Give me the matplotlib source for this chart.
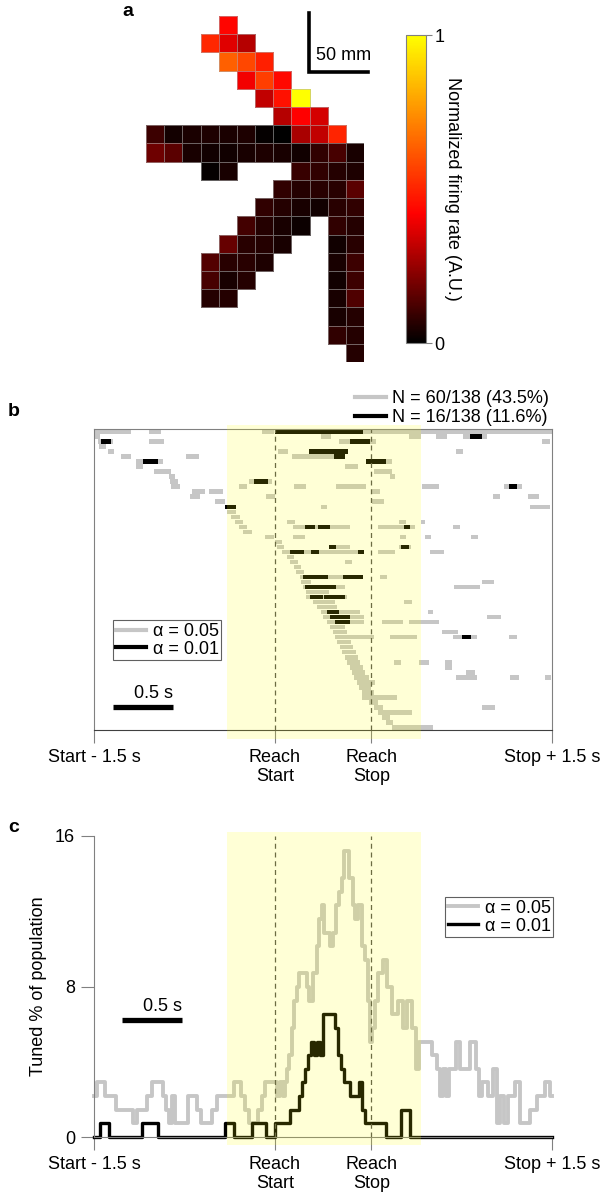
import numpy as np
import matplotlib.pyplot as plt
from matplotlib.colors import LinearSegmentedColormap
from matplotlib.lines import Line2D
from matplotlib.patches import Rectangle

plt.rcParams['font.family'] = ['Liberation Sans', 'DejaVu Sans']
plt.rcParams['font.size'] = 13

N = np.nan
# panel a: normalized firing rate per spatial bin (19 rows x 12 cols)
rate_map = [
    [N, N, N, N, 0.43, N, N, N, N, N, N, N],
    [N, N, N, 0.51, 0.37, 0.30, N, N, N, N, N, N],
    [N, N, N, N, 0.64, 0.58, 0.49, N, N, N, N, N],
    [N, N, N, N, N, 0.40, 0.56, 0.44, N, N, N, N],
    [N, N, N, N, N, N, 0.32, 0.46, 1.0, N, N, N],
    [N, N, N, N, N, N, N, 0.30, 0.42, 0.35, N, N],
    [0.10, 0.035, 0.045, 0.05, 0.045, 0.05, 0.01, 0.0, 0.28, 0.32, 0.50, N],
    [0.18, 0.15, 0.04, 0.03, 0.03, 0.04, 0.05, 0.04, 0.03, 0.08, 0.12, 0.04],
    [N, N, N, 0.01, 0.04, N, N, N, 0.09, 0.08, 0.06, 0.05],
    [N, N, N, N, N, N, N, 0.08, 0.06, 0.07, 0.07, 0.15],
    [N, N, N, N, N, N, 0.08, 0.06, 0.04, 0.03, 0.07, 0.08],
    [N, N, N, N, N, 0.11, 0.06, 0.04, 0.02, N, 0.08, 0.06],
    [N, N, N, N, 0.17, 0.07, 0.06, 0.04, N, N, 0.03, 0.07],
    [N, N, N, 0.14, 0.07, 0.07, 0.05, N, N, N, 0.04, 0.10],
    [N, N, N, 0.12, 0.04, 0.06, N, N, N, N, 0.03, 0.10],
    [N, N, N, 0.06, 0.06, N, N, N, N, N, 0.04, 0.13],
    [N, N, N, N, N, N, N, N, N, N, 0.04, 0.06],
    [N, N, N, N, N, N, N, N, N, N, 0.08, 0.06],
    [N, N, N, N, N, N, N, N, N, N, N, 0.06],
]

# time axis (s from Start - 1.5 s)
event_t = [0.0, 1.5, 2.3, 3.8]
event_labels = ['Start - 1.5 s', 'Reach\nStart', 'Reach\nStop', 'Stop + 1.5 s']
window_t = (1.10, 2.71)
n_units = 60
n_total = 138
n_sig05 = 60
n_sig01 = 16

# panel b: significant epochs per unit (row, t_start, t_end)
raster_05 = [
    (0, 0.01, 0.31), (0, 0.46, 0.56), (0, 1.39, 1.49), (0, 2.23, 3.80),
    (1, 0.01, 0.05), (1, 1.88, 1.97), (1, 2.61, 2.71), (1, 2.84, 2.93), (1, 3.06, 3.26),
    (2, 0.03, 0.16), (2, 0.46, 0.58), (2, 2.03, 2.34), (2, 3.72, 3.78),
    (3, 0.04, 0.10),
    (4, 0.12, 0.17), (4, 1.53, 1.61), (4, 3.00, 3.06),
    (5, 0.22, 0.31), (5, 0.76, 0.87), (5, 1.64, 2.00),
    (6, 0.35, 0.57), (6, 2.26, 2.47),
    (7, 0.35, 0.41), (7, 2.08, 2.19),
    (8, 0.50, 0.64), (8, 2.32, 2.47),
    (9, 0.62, 0.67), (9, 2.46, 2.50),
    (10, 0.63, 0.70), (10, 1.29, 1.48),
    (11, 0.64, 0.71), (11, 1.20, 1.27), (11, 1.66, 1.76), (11, 2.01, 2.26), (11, 2.72, 2.86), (11, 3.40, 3.55),
    (12, 0.81, 0.92), (12, 0.95, 1.07), (12, 2.31, 2.37),
    (13, 0.80, 0.88), (13, 1.43, 1.50), (13, 3.31, 3.37), (13, 3.60, 3.69),
    (14, 1.00, 1.09), (14, 2.31, 2.41),
    (15, 1.09, 1.18), (15, 1.88, 1.93), (15, 3.62, 3.78),
    (16, 1.10, 1.18),
    (17, 1.14, 1.21),
    (18, 1.17, 1.24), (18, 1.60, 1.67), (18, 2.53, 2.59), (18, 2.71, 2.75),
    (19, 1.20, 1.27), (19, 1.65, 2.12), (19, 2.36, 2.66), (19, 2.98, 3.04),
    (20, 1.24, 1.31),
    (21, 1.42, 1.49), (21, 1.65, 1.75), (21, 2.54, 2.59), (21, 2.75, 2.80), (21, 3.13, 3.19),
    (22, 1.50, 1.56),
    (23, 1.52, 1.58), (23, 1.95, 2.12), (23, 2.53, 2.63),
    (24, 1.56, 2.24), (24, 2.36, 2.50), (24, 2.79, 2.90),
    (25, 1.60, 1.66),
    (26, 1.63, 1.69), (26, 2.08, 2.14),
    (27, 1.66, 1.72),
    (28, 1.68, 1.74),
    (29, 1.71, 2.23), (29, 2.37, 2.43),
    (30, 1.72, 1.80), (30, 3.22, 3.32),
    (31, 1.73, 2.08), (31, 2.99, 3.20),
    (32, 1.76, 1.95),
    (33, 1.76, 2.10),
    (34, 1.82, 2.00), (34, 2.57, 2.64),
    (35, 1.85, 2.02),
    (36, 1.88, 2.21), (36, 2.77, 2.81),
    (37, 1.90, 2.24), (37, 3.26, 3.38),
    (38, 1.93, 2.24), (38, 2.39, 2.56), (38, 2.61, 2.86),
    (39, 1.96, 2.08),
    (40, 1.98, 2.10), (40, 2.89, 3.02),
    (41, 2.00, 2.32), (41, 2.46, 2.68), (41, 2.98, 3.18), (41, 3.44, 3.51),
    (42, 2.02, 2.13),
    (43, 2.04, 2.15),
    (44, 2.06, 2.17),
    (45, 2.08, 2.19),
    (46, 2.10, 2.21), (46, 2.49, 2.55), (46, 2.70, 2.78), (46, 2.91, 2.97),
    (47, 2.12, 2.23), (47, 2.91, 2.97),
    (48, 2.14, 2.25), (48, 3.09, 3.16),
    (49, 2.16, 2.28), (49, 3.00, 3.18), (49, 3.45, 3.53), (49, 3.74, 3.79),
    (50, 2.18, 2.33),
    (51, 2.20, 2.30),
    (52, 2.22, 2.32),
    (53, 2.22, 2.51),
    (54, 2.28, 2.36),
    (55, 2.32, 2.40), (55, 3.22, 3.33),
    (56, 2.36, 2.64),
    (57, 2.39, 2.46),
    (58, 2.42, 2.48),
    (59, 2.47, 2.81),
]
raster_01 = [
    (0, 1.50, 2.23),
    (1, 3.12, 3.22),
    (2, 0.06, 0.14), (2, 2.12, 2.29),
    (4, 1.78, 2.11),
    (5, 1.99, 2.08),
    (6, 0.41, 0.53), (6, 2.26, 2.42),
    (10, 1.33, 1.44),
    (11, 3.44, 3.51),
    (15, 1.09, 1.18),
    (19, 1.75, 1.83), (19, 1.86, 1.96), (19, 2.57, 2.62),
    (23, 1.95, 2.01), (23, 2.55, 2.61),
    (24, 1.63, 1.74), (24, 1.80, 1.87), (24, 2.19, 2.24),
    (29, 1.73, 1.94), (29, 2.07, 2.23),
    (31, 1.75, 2.01),
    (33, 1.79, 1.90), (33, 1.91, 2.08),
    (36, 1.93, 2.03),
    (37, 1.96, 2.12),
    (38, 2.00, 2.12),
    (41, 3.05, 3.13),
]

# panel c: number of tuned units over time (step changes)
tuned05_t = [0.0, 0.022, 0.091, 0.183, 0.326, 0.354, 0.443, 0.479, 0.57, 0.598, 0.62, 0.645,
             0.672, 0.783, 0.858, 0.885, 0.976, 1.024, 1.115, 1.162, 1.217, 1.253, 1.289,
             1.364, 1.391, 1.419, 1.516, 1.544, 1.566, 1.585, 1.604, 1.621, 1.64, 1.66,
             1.682, 1.704, 1.765, 1.787, 1.815, 1.848, 1.87, 1.889, 1.911, 1.959, 1.981,
             2.008, 2.036, 2.058, 2.077, 2.119, 2.147, 2.167, 2.194, 2.221, 2.249, 2.271,
             2.29, 2.304, 2.332, 2.36, 2.396, 2.429, 2.47, 2.525, 2.567, 2.595, 2.636,
             2.672, 2.70, 2.802, 2.844, 2.871, 2.899, 2.921, 2.949, 3.004, 3.037, 3.12,
             3.17, 3.198, 3.217, 3.272, 3.314, 3.341, 3.369, 3.402, 3.438, 3.494, 3.535,
             3.618, 3.674, 3.743, 3.784, 3.8]
tuned05_n = [3, 4, 3, 2, 1, 2, 3, 4, 3, 2, 1, 3,
             1, 3, 2, 1, 2, 3, 3, 4, 3, 2, 1,
             2, 3, 4, 3, 4, 3, 4, 5, 6, 8, 10,
             11, 12, 11, 10, 12, 14, 16, 17, 15, 14, 15,
             17, 18, 19, 21, 19, 17, 16, 17, 14, 13, 10,
             7, 8, 10, 12, 13, 11, 9, 10, 8, 10, 8,
             5, 7, 6, 5, 3, 5, 3, 5, 7, 5, 7,
             5, 3, 4, 3, 5, 1, 3, 1, 3, 4, 1,
             2, 3, 4, 3, 3]
tuned01_t = [0.0, 0.05, 0.125, 0.40, 0.53, 1.09, 1.16, 1.31, 1.43, 1.50, 1.625, 1.70,
             1.725, 1.75, 1.775, 1.80, 1.825, 1.85, 1.875, 1.90, 2.00, 2.025, 2.05, 2.075,
             2.125, 2.20, 2.225, 2.25, 2.425, 2.55, 2.625, 3.8]
tuned01_n = [0, 1, 0, 1, 0, 1, 0, 1, 0, 1, 2, 3,
             4, 5, 6, 7, 6, 7, 6, 9, 8, 6, 5, 4,
             3, 4, 2, 1, 0, 2, 0, 0]

gray = '#c6c6c6'
spine_c = '#808080'

fig = plt.figure(figsize=(6.06, 12), dpi=100)

# ---------------- panel a
ax_a = fig.add_axes([146 / 606, 1 - 362 / 1200, 218 / 606, 346 / 1200])
cmap = LinearSegmentedColormap.from_list('blackredyellow', [(0, 'black'), (0.42, 'red'), (1, 'yellow')])
vals = np.array(rate_map)
mesh = ax_a.pcolormesh(np.arange(13), np.arange(20), np.ma.masked_invalid(vals), cmap=cmap,
                       vmin=0, vmax=1, linewidth=0.4)
edge = np.array([(0.7, 0.7, 0.7, 0.55) if np.isfinite(v) else (0, 0, 0, 0) for v in vals.ravel()])
mesh.set_edgecolor(edge)
ax_a.set_xlim(0, 12)
ax_a.set_ylim(19, 0)
ax_a.axis('off')
ax_a.plot([8.96, 8.96, 12.2], [-0.16, 3.08, 3.08], color='black', lw=2.6, clip_on=False,
          solid_joinstyle='miter')
ax_a.text(10.85, 2.15, '50 mm', ha='center', va='center')

cax = fig.add_axes([406 / 606, 1 - 343 / 1200, 20 / 606, 308 / 1200])
cb = fig.colorbar(mesh, cax=cax, ticks=[0, 1])
cb.outline.set_edgecolor(spine_c)
cb.outline.set_linewidth(0.8)
cax.tick_params(length=4, width=0.8, color=spine_c, pad=2)
cax.text(2.35, 0.5, 'Normalized firing rate (A.U.)', rotation=270, ha='center', va='center',
         transform=cax.transAxes)
fig.text(128 / 606, 1 - 12 / 1200, 'a', fontsize=14, fontweight='bold', ha='center', va='center')

# ---------------- panel b
ax_b = fig.add_axes([94 / 606, 1 - 730 / 1200, 458 / 606, 301 / 1200])
for row, t0, t1 in raster_05:
    ax_b.barh(row + 0.5, t1 - t0, left=t0, height=0.9, color=gray, lw=0)
for row, t0, t1 in raster_01:
    ax_b.barh(row + 0.5, t1 - t0, left=t0, height=0.9, color='black', lw=0)
for t in event_t[1:3]:
    ax_b.axvline(t, color='#505050', lw=0.9, dashes=(4, 3))
ax_b.add_patch(Rectangle((window_t[0], -0.8), window_t[1] - window_t[0], n_units + 2.6,
                         color='yellow', alpha=0.16, lw=0, zorder=10, clip_on=False))
ax_b.set_xlim(0, 3.8)
ax_b.set_ylim(n_units, 0)
ax_b.set_yticks([])
ax_b.set_xticks(event_t)
ax_b.set_xticklabels(event_labels)
ax_b.tick_params(axis='x', length=9.5, width=0.8, color=spine_c, pad=4)
for s in ax_b.spines.values():
    s.set_color(spine_c)
    s.set_linewidth(0.8)
ax_b.spines['bottom'].set_color('#404040')

ax_b.plot([0.158, 0.656], [55.5, 55.5], color='black', lw=3.8, solid_capstyle='butt')
ax_b.text(0.656, 54.4, '0.5 s', ha='right', va='bottom')

h05 = Line2D([], [], color=gray, lw=3)
h01 = Line2D([], [], color='black', lw=3)
leg_top = ax_b.legend([h05, h01],
                      [f'N = {n_sig05}/{n_total} ({100 * n_sig05 / n_total:.1f}%)',
                       f'N = {n_sig01}/{n_total} ({100 * n_sig01 / n_total:.1f}%)'],
                      loc='lower right', bbox_to_anchor=(1.0, 1.0), frameon=False, borderaxespad=0.15,
                      borderpad=0, handlelength=1.7, handletextpad=0.35, labelspacing=0.1)
ax_b.add_artist(leg_top)
leg_b = ax_b.legend([h05, h01], ['α = 0.05', 'α = 0.01'], loc='upper left',
                    bbox_to_anchor=(0.0415, 0.365), borderaxespad=0, borderpad=0.15,
                    handlelength=1.7, handletextpad=0.35, labelspacing=0.05, fancybox=False,
                    edgecolor='#606060', framealpha=1)
leg_b.get_frame().set_linewidth(0.8)
fig.text(8 / 606, 1 - 411 / 1200, 'b', fontsize=14, fontweight='bold', va='center')

# ---------------- panel c
ax_c = fig.add_axes([94 / 606, 1 - 1137 / 1200, 458 / 606, 301 / 1200])
pct05 = np.array(tuned05_n) * 100 / n_total
pct01 = np.array(tuned01_n) * 100 / n_total
ax_c.step(tuned05_t, pct05, where='post', color=gray, lw=2.8, label='α = 0.05', clip_on=False)
ax_c.step(tuned01_t, pct01, where='post', color='black', lw=2.4, label='α = 0.01', clip_on=False)
for t in event_t[1:3]:
    ax_c.plot([t, t], [0, 16], color='#505050', lw=0.9, dashes=(4, 3))
ax_c.add_patch(Rectangle((window_t[0], -0.45), window_t[1] - window_t[0], 16.65,
                         color='yellow', alpha=0.16, lw=0, zorder=10, clip_on=False))
ax_c.set_xlim(0, 3.8)
ax_c.set_ylim(0, 16)
ax_c.set_yticks([0, 8, 16])
ax_c.set_xticks(event_t)
ax_c.set_xticklabels(event_labels)
ax_c.tick_params(axis='both', length=9.5, width=0.8, color=spine_c, pad=4)
ax_c.spines['top'].set_visible(False)
ax_c.spines['right'].set_visible(False)
for s in ['left', 'bottom']:
    ax_c.spines[s].set_color(spine_c)
    ax_c.spines[s].set_linewidth(0.8)
ax_c.set_ylabel('Tuned % of population', labelpad=6)
ax_c.plot([0.232, 0.73], [6.22, 6.22], color='black', lw=3.8, solid_capstyle='butt')
ax_c.text(0.73, 6.5, '0.5 s', ha='right', va='bottom')
leg_c = ax_c.legend(loc='upper left', bbox_to_anchor=(0.766, 0.797), borderaxespad=0, borderpad=0.15,
                    handlelength=1.7, handletextpad=0.35, labelspacing=0.05, fancybox=False,
                    edgecolor='#606060', framealpha=1)
leg_c.get_frame().set_linewidth(0.8)
fig.text(8 / 606, 1 - 827 / 1200, 'c', fontsize=14, fontweight='bold', va='center')

fig.savefig('out.png', dpi=100)
